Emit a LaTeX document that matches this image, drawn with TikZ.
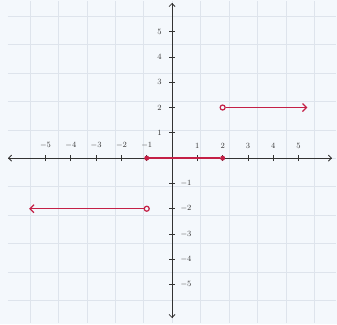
\documentclass[tikz,border=0pt]{standalone}
\usetikzlibrary{arrows.meta}
\definecolor{bg}{RGB}{244,248,252}
\definecolor{gridc}{RGB}{222,228,236}
\definecolor{redc}{RGB}{196,32,70}
\begin{document}
\begin{tikzpicture}[x=25.3pt,y=25.3pt,
  axis/.style={line width=0.8pt,black!80,-{Straight Barb[length=3pt]}},
  tick/.style={line width=0.8pt,black!80},
  lab/.style={font=\footnotesize,text=black!80,inner sep=1pt},
  ray/.style={redc,line width=1.3pt,-{Straight Barb[length=4pt]}},
  seg/.style={redc,line width=2.6pt},
  opendot/.style={circle,draw=redc,line width=1.2pt,fill=bg,inner sep=0pt,minimum size=5pt},
  fulldot/.style={circle,fill=redc,inner sep=0pt,minimum size=5pt}]
\fill[bg] (-6.80,-6.56) rectangle (6.52,6.25);
\useasboundingbox (-6.80,-6.56) rectangle (6.52,6.25);
\draw[gridc,line width=0.3pt] (-6.5,-6.5) grid (6.5,6.2);
% axes
\coordinate (xl) at (-6.48,0);
\coordinate (xr) at (6.32,0);
\coordinate (yb) at (0,-6.32);
\coordinate (yt) at (0,6.13);
\draw[axis] (xl) -- (xr);
\draw[axis] (xr) -- (xl);
\draw[axis] (yb) -- (yt);
\draw[axis] (yt) -- (yb);
% ticks and labels
\foreach \i in {-5,-4,-3,-2,-1,1,2,3,4,5}{
  \draw[tick] (\i,-0.12) -- (\i,0.12);
  \node[lab] (xt\i) at (\i,0.5) {$\i$};
}
\foreach \i in {1,2,3,4,5}{
  \draw[tick] (-0.12,\i) -- (0.12,\i);
  \node[lab] (yt\i) at (-0.5,\i) {$\i$};
}
\foreach \i in {-1,-2,-3,-4,-5}{
  \draw[tick] (-0.12,\i) -- (0.12,\i);
  \node[lab] (yn\i) at (0.55,\i) {$\i$};
}
% graph
\node[fulldot] (a) at (-1,0) {};
\node[fulldot] (b) at (2,0) {};
\draw[seg] (a) -- (b);
\node[opendot] (c) at (2,2) {};
\coordinate (ce) at (5.35,2);
\draw[ray] (c) -- (ce);
\node[opendot] (d) at (-1,-2) {};
\coordinate (de) at (-5.65,-2);
\draw[ray] (d) -- (de);
\end{tikzpicture}
\end{document}
